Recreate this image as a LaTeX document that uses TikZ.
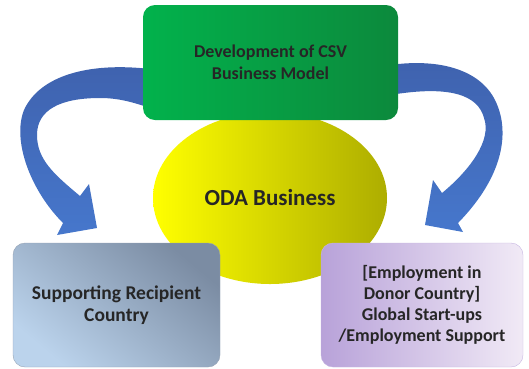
\documentclass[tikz,border=0pt]{standalone}
\usepackage{fontspec}
\setmainfont{Carlito}
\usepackage{tikz}
\usetikzlibrary{shapes,arrows,arrows.meta}
\usetikzlibrary{positioning}
\definecolor{arrblue}{HTML}{4677CC}
\definecolor{arrdark}{HTML}{3F62AE}
\definecolor{grnA}{HTML}{02B24C}
\definecolor{grnB}{HTML}{0C893C}
\definecolor{ylwA}{HTML}{FFFF00}
\definecolor{ylwB}{HTML}{ADAD00}
\definecolor{slateA}{HTML}{7B8CA3}
\definecolor{slateB}{HTML}{BBD3EC}
\definecolor{lilacA}{HTML}{B8A2D9}
\definecolor{lilacB}{HTML}{F1EAF6}
\tikzstyle{box} = [rectangle, rounded corners=12pt, text centered, align=center,
    font=\bfseries\fontsize{18}{22}\selectfont, text=black!85]

\begin{document}
\begin{tikzpicture}[x=1pt,y=-1pt]
\useasboundingbox (0,0) rectangle (529,368);

% curved arrows
\shade[top color=arrdark, bottom color=arrblue]
  (150,69) .. controls (90,62) and (40,75) .. (24,110)
  .. controls (12,140) and (30,190) .. (63,223)
  -- (57,235) -- (97,228) -- (89,184) -- (80,196)
  .. controls (55,175) and (37,160) .. (37,135)
  .. controls (37,110) and (60,98) .. (100,98)
  .. controls (120,98) and (135,103) .. (150,108) -- cycle;
\shade[top color=arrdark, bottom color=arrblue]
  (390,65) .. controls (440,58) and (480,70) .. (495,100)
  .. controls (510,130) and (505,175) .. (458,223)
  -- (463,232) -- (425,225) -- (433,180) -- (442,193)
  .. controls (470,170) and (492,140) .. (484,118)
  .. controls (478,95) and (450,85) .. (390,95) -- cycle;

\node[ellipse, left color=ylwA, right color=ylwB, draw=none,
  minimum width=234pt, minimum height=172pt,
  font=\bfseries\fontsize{23}{27}\selectfont, text=black!85] (oda) at (270,198) {ODA Business};

\node[box, left color=grnA, right color=grnB,
  minimum width=255pt, minimum height=115pt] (csv) at (270.5,62.5)
  {Development of CSV\\Business Model};

\node[box, top color=slateA, bottom color=slateB, shading angle=-40, draw=slateA!80,
  font=\bfseries\fontsize{19.5}{22}\selectfont,
  minimum width=207pt, minimum height=124pt] (rec) at (116.5,305)
  {Supporting Recipient\\Country};

\node[box, left color=lilacA, right color=lilacB, draw=lilacA!80,
  font=\bfseries\fontsize{18}{21}\selectfont,
  minimum width=202pt, minimum height=124pt] (don) at (422,305)
  {[Employment in\\Donor Country]\\Global Start-ups\\/Employment Support};

\end{tikzpicture}
\end{document}
